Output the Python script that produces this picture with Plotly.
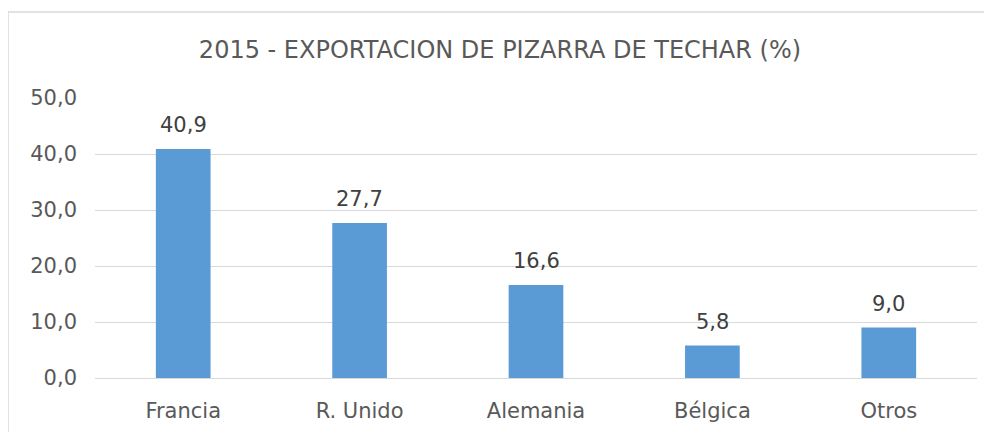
import plotly.graph_objects as go

categories = ["Francia", "R. Unido", "Alemania", "Bélgica", "Otros"]
values = [40.9, 27.7, 16.6, 5.8, 9.0]
tick_vals = [0, 10, 20, 30, 40, 50]

FONT = "DejaVu Sans"
W, H = 984, 424  # page body has an 8px margin

fig = go.Figure(go.Bar(
    x=categories, y=values,
    marker=dict(color="#5B9BD5", line=dict(width=0)),
    hoverinfo="x+y",
))

for c, v in zip(categories, values):
    fig.add_annotation(x=c, y=v, text=f"{v:.1f}".replace(".", ","),
                       showarrow=False, yanchor="bottom", yshift=10,
                       font=dict(family=FONT, size=21, color="#404040"))

fig.update_layout(
    width=W, height=H,
    separators=",.",
    margin=dict(l=87, r=15, t=90, b=54),
    paper_bgcolor="white", plot_bgcolor="white",
    bargap=0.69,
    showlegend=False,
    title=dict(text="2015 - EXPORTACION DE PIZARRA DE TECHAR (%)",
               x=0.5, xref="container", xanchor="center",
               y=1 - 42/H, yref="container", yanchor="middle",
               font=dict(family=FONT, size=24, color="#595959")),
    font=dict(family=FONT, color="#595959"),
    xaxis=dict(showgrid=False, showline=False, ticks="", automargin=False,
               ticklabelstandoff=18,
               tickfont=dict(family=FONT, size=21, color="#595959")),
    yaxis=dict(range=[0, 50], tickvals=tick_vals, tickformat=".1f",
               automargin=False,
               showgrid=True, gridcolor="#D9D9D9", gridwidth=1,
               zeroline=True, zerolinecolor="#D9D9D9", zerolinewidth=1,
               showline=False, ticks="", ticklabelstandoff=17,
               tickfont=dict(family=FONT, size=21, color="#595959")),
    shapes=[dict(type="rect", xref="paper", yref="paper",
                 x0=-87/882, x1=1.05, y0=-0.3, y1=(370-4)/280,
                 line=dict(color="#D9D9D9", width=1.5), fillcolor="rgba(0,0,0,0)",
                 layer="below")],
)

fig.write_html("out.html")
